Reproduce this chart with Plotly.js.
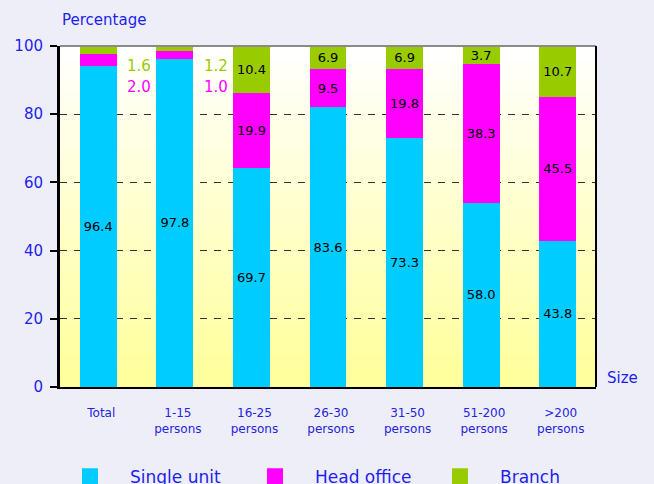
<!DOCTYPE html>
<html>
<head>
<meta charset="utf-8">
<script src="https://cdn.plot.ly/plotly-3.0.1.min.js"></script>
<style>
  html, body { margin: 0; padding: 0; background: #EEEEF8; }
  #chart { width: 654px; height: 484px; }
</style>
</head>
<body>
<div id="chart"></div>
<script>
// ---- data ----
var categories = ['Total', '1-15<br>persons', '16-25<br>persons', '26-30<br>persons',
                  '31-50<br>persons', '51-200<br>persons', '>200<br>persons'];
// segment heights as drawn
var singleUnit = [94.1, 96.2, 64.1, 82.1, 72.9, 54.1, 42.9];
var headOffice = [3.5, 2.3, 22.1, 11.1, 20.3, 40.6, 42.2];
var branch     = [2.4, 1.5, 13.8, 6.8, 6.8, 5.3, 14.9];
// printed value labels
var singleLabels = ['96.4', '97.8', '69.7', '83.6', '73.3', '58.0', '43.8'];
var headLabels   = ['', '', '19.9', '9.5', '19.8', '38.3', '45.5'];
var branchLabels = ['', '', '10.4', '6.9', '6.9', '3.7', '10.7'];
// labels printed beside the two first bars
var sideCategories = ['Total', '1-15<br>persons'];
var sideHead   = ['2.0', '1.0'];
var sideBranch = ['1.6', '1.2'];
var seriesNames = ['Single unit', 'Head office', 'Branch'];
var yTicks = [0, 20, 40, 60, 80, 100];

var COLORS = ['#00CCFF', '#FF00FF', '#99CC00'];
var BLUE = '#1E1EF0';
var FONT = 'DejaVu Sans, Verdana, sans-serif';

function barTrace(vals, labels, i) {
  return {
    type: 'bar', x: categories, y: vals, name: seriesNames[i],
    marker: { color: COLORS[i], line: { width: 0 } },
    width: 0.48,
    text: labels, textposition: 'inside', insidetextanchor: 'middle',
    textangle: 0, constraintext: 'none',
    textfont: { family: FONT, size: 13, color: '#000000' },
    hoverinfo: 'skip', showlegend: false
  };
}
function legendProxy(i) {
  return {
    type: 'scatter', mode: 'markers', x: [null], y: [null], name: seriesNames[i],
    marker: { symbol: 'square', size: 16, color: COLORS[i] },
    hoverinfo: 'skip', showlegend: true
  };
}

var data = [
  barTrace(singleUnit, singleLabels, 0),
  barTrace(headOffice, headLabels, 1),
  barTrace(branch, branchLabels, 2),
  legendProxy(0), legendProxy(1), legendProxy(2)
];

var annotations = [
  { xref: 'paper', yref: 'paper', x: 0, y: 1, xanchor: 'left', yanchor: 'middle',
    xshift: 0, yshift: 26, text: 'Percentage', showarrow: false,
    font: { family: FONT, size: 15, color: BLUE } },
  { xref: 'paper', yref: 'paper', x: 1, y: 0, xanchor: 'left', yanchor: 'middle',
    xshift: 9, yshift: 9, text: 'Size', showarrow: false,
    font: { family: FONT, size: 15, color: BLUE } }
];
sideCategories.forEach(function (c, k) {
  annotations.push({ x: c, y: 94, xref: 'x', yref: 'y', xshift: 41, text: sideBranch[k],
    showarrow: false, font: { family: FONT, size: 15, color: COLORS[2] } });
  annotations.push({ x: c, y: 88, xref: 'x', yref: 'y', xshift: 41, text: sideHead[k],
    showarrow: false, font: { family: FONT, size: 15, color: COLORS[1] } });
});

var gradSvg = '<svg xmlns="http://www.w3.org/2000/svg" width="10" height="100" preserveAspectRatio="none">' +
  '<defs><linearGradient id="g" x1="0" y1="0" x2="0" y2="1">' +
  '<stop offset="0" stop-color="#FFFFFF"/><stop offset="1" stop-color="#FFFF99"/>' +
  '</linearGradient></defs><rect width="10" height="100" fill="url(#g)"/></svg>';

var layout = {
  width: 654, height: 484,
  margin: { l: 60, r: 58, t: 46, b: 97, autoexpand: false },
  paper_bgcolor: '#EEEEF8',
  plot_bgcolor: '#FFFFEE',
  barmode: 'stack',
  font: { family: FONT, color: BLUE },
  showlegend: true,
  legend: {
    orientation: 'h', x: -0.0187, xanchor: 'left', y: -0.263, yanchor: 'middle',
    traceorder: 'normal',
    font: { family: FONT, size: 17, color: BLUE },
    entrywidth: 100, entrywidthmode: 'pixels', itemwidth: 70,
    bgcolor: 'rgba(0,0,0,0)'
  },
  xaxis: {
    type: 'category', range: [-0.5, 6.5], fixedrange: true,
    showline: true, linecolor: '#000000', linewidth: 2,
    ticks: '', showgrid: false, zeroline: false,
    tickfont: { family: FONT, size: 12, color: '#2424E0' },
    ticklabelstandoff: 14, ticklabelshift: 3
  },
  yaxis: {
    range: [0, 100], tickvals: yTicks, fixedrange: true,
    showline: true, linecolor: '#000000', linewidth: 3,
    ticks: 'outside', ticklen: 7, tickwidth: 2, tickcolor: '#000000',
    tickfont: { family: FONT, size: 15, color: BLUE },
    showgrid: true, gridcolor: '#333333', gridwidth: 1, griddash: '7px,7px',
    zeroline: false, ticklabelstandoff: 4
  },
  images: [{
    source: 'data:image/svg+xml;charset=utf-8,' + encodeURIComponent(gradSvg),
    xref: 'paper', yref: 'paper', x: 0, y: 1, sizex: 1, sizey: 1,
    xanchor: 'left', yanchor: 'top', sizing: 'stretch', layer: 'below'
  }],
  shapes: [
    { type: 'line', xref: 'paper', yref: 'paper', x0: 0, x1: 1, y0: 1, y1: 1,
      line: { color: '#8A8A8A', width: 2 } },
    { type: 'line', xref: 'paper', yref: 'paper', x0: 1, x1: 1, y0: 0, y1: 1,
      line: { color: '#000000', width: 2 } }
  ],
  annotations: annotations
};

Plotly.newPlot('chart', data, layout, { displayModeBar: false, staticPlot: true });
</script>
</body>
</html>
